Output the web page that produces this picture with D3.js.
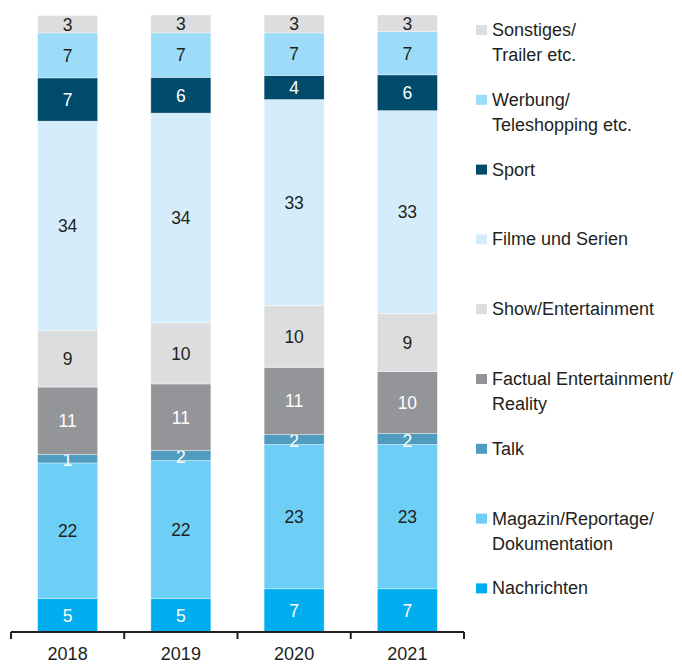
<!DOCTYPE html>
<html>
<head>
<meta charset="utf-8">
<script src="https://cdn.jsdelivr.net/npm/d3@7"></script>
<style>
	body { margin: 0; background: #fff; }
	svg { display: block; font-family: "Liberation Sans", Arial, sans-serif; }
</style>
</head>
<body>
<svg id="chart" width="682" height="666"></svg>
<script>
'use strict' ;

// years on the x axis
const years = [ "2018", "2019", "2020", "2021" ] ;

// categories, bottom of the stack first
const categories = [
	"Nachrichten", "Magazin", "Talk", "Factual", "Show",
	"Filme", "Sport", "Werbung", "Sonstiges"
] ;

// legend text, one entry per category (lines)
const legendLabels = {
	Nachrichten: [ "Nachrichten" ],
	Magazin: [ "Magazin/Reportage/", "Dokumentation" ],
	Talk: [ "Talk" ],
	Factual: [ "Factual Entertainment/", "Reality" ],
	Show: [ "Show/Entertainment" ],
	Filme: [ "Filme und Serien" ],
	Sport: [ "Sport" ],
	Werbung: [ "Werbung/", "Teleshopping etc." ],
	Sonstiges: [ "Sonstiges/", "Trailer etc." ]
} ;

// shares in percent (same order as categories)
const values2018 = [ 5.4, 22.0, 1.4, 10.9, 9.2, 33.9, 7.0, 7.3, 2.8 ] ;
const values2019 = [ 5.4, 22.4, 1.6, 10.8, 9.9, 34.0, 5.8, 7.2, 2.9 ] ;
const values2020 = [ 7.0, 23.4, 1.6, 10.9, 10.0, 33.4, 3.9, 6.9, 2.9 ] ;
const values2021 = [ 7.0, 23.4, 1.8, 10.0, 9.4, 32.9, 5.8, 7.0, 2.7 ] ;

// printed labels
const labels2018 = [ 5, 22, 1, 11, 9, 34, 7, 7, 3 ] ;
const labels2019 = [ 5, 22, 2, 11, 10, 34, 6, 7, 3 ] ;
const labels2020 = [ 7, 23, 2, 11, 10, 33, 4, 7, 3 ] ;
const labels2021 = [ 7, 23, 2, 10, 9, 33, 6, 7, 3 ] ;

const colours = {
	Nachrichten: '#00aeef',
	Magazin: '#6dcff6',
	Talk: '#4f9cc0',
	Factual: '#939598',
	Show: '#dcdddf',
	Filme: '#d5edfb',
	Sport: '#004b6b',
	Werbung: '#9ddcf9',
	Sonstiges: '#dcdddf'
} ;
const whiteText = { Nachrichten: true, Talk: true, Factual: true, Sport: true } ;

let valuesByYear = [ values2018, values2019, values2020, values2021 ] ;
let labelsByYear = [ labels2018, labels2019, labels2020, labels2021 ] ;

let rows = years.map( ( year, i ) => {
	let row = { year: year } ;
	categories.forEach( ( c, j ) => {
		row[c] = valuesByYear[i][j] ;
		row[c + '_label'] = labelsByYear[i][j] ;
	} ) ;
	return row ;
} ) ;

let geom = {
	axisY: 632,
	top: 15,
	left: 11,
	right: 464
} ;

let svg = d3.select( '#chart' ) ;

let x = d3.scaleBand()
	.domain( years )
	.range( [ geom.left, geom.right ] )
	.paddingInner( 0.47 )
	.paddingOuter( 0.235 ) ;

let y = d3.scaleLinear()
	.domain( [ 0, 100 ] )
	.range( [ geom.axisY, geom.top ] ) ;

let stack = d3.stack().keys( categories ) ;
let series = stack( rows ) ;

let layers = svg.append( 'g' ).attr( 'class', 'bars' )
	.selectAll( 'g.layer' )
	.data( series )
	.enter()
	.append( 'g' )
	.attr( 'class', 'layer' )
	.attr( 'fill', d => colours[d.key] ) ;

layers.selectAll( 'rect' )
	.data( d => d.map( p => ( { key: d.key, p: p } ) ) )
	.enter()
	.append( 'rect' )
	.attr( 'x', d => x( d.p.data.year ) )
	.attr( 'width', x.bandwidth() )
	.attr( 'y', d => y( d.p[1] ) )
	.attr( 'height', d => y( d.p[0] ) - y( d.p[1] ) )
	.attr( 'stroke', 'rgba(255,255,255,0.6)' )
	.attr( 'stroke-width', 0.6 ) ;

layers.selectAll( 'text' )
	.data( d => d.map( p => ( { key: d.key, p: p } ) ) )
	.enter()
	.append( 'text' )
	.attr( 'x', d => x( d.p.data.year ) + x.bandwidth() / 2 )
	.attr( 'y', d => ( y( d.p[0] ) + y( d.p[1] ) ) / 2 + ( d.key == 'Talk' ? 1.5 : 0 ) )
	.attr( 'dy', '0.36em' )
	.attr( 'text-anchor', 'middle' )
	.attr( 'font-size', '17.5px' )
	.attr( 'fill', d => whiteText[d.key] ? '#ffffff' : '#231f20' )
	.text( d => d.p.data[d.key + '_label'] ) ;

// axis: baseline with ticks between the years
{
	let axis = svg.append( 'g' ).attr( 'class', 'axis' ) ;
	axis.append( 'line' )
		.attr( 'x1', geom.left )
		.attr( 'x2', geom.right )
		.attr( 'y1', geom.axisY )
		.attr( 'y2', geom.axisY )
		.attr( 'stroke', '#231f20' )
		.attr( 'stroke-width', 2.2 ) ;
	let step = x.step() ;
	let tickXs = years.map( yr => x( yr ) - step * x.paddingInner() / 2 ).concat( [ geom.right ] ) ;
	axis.selectAll( 'line.tick' )
		.data( tickXs )
		.enter()
		.append( 'line' )
		.attr( 'class', 'tick' )
		.attr( 'x1', d => d )
		.attr( 'x2', d => d )
		.attr( 'y1', geom.axisY )
		.attr( 'y2', geom.axisY + 7 )
		.attr( 'stroke', '#231f20' )
		.attr( 'stroke-width', 2 ) ;
	axis.selectAll( 'text' )
		.data( years )
		.enter()
		.append( 'text' )
		.attr( 'x', d => x( d ) + x.bandwidth() / 2 )
		.attr( 'y', 660 )
		.attr( 'text-anchor', 'middle' )
		.attr( 'font-size', '18px' )
		.attr( 'fill', '#231f20' )
		.text( d => d ) ;
}

// legend, top entry first
{
	let order = categories.slice().reverse() ;
	let legend = svg.append( 'g' ).attr( 'class', 'legend' )
		.selectAll( 'g.item' )
		.data( order )
		.enter()
		.append( 'g' )
		.attr( 'class', 'item' )
		.attr( 'transform', ( d, i ) => 'translate(476,' + ( 36 + i * 69.8 ) + ')' ) ;
	legend.append( 'rect' )
		.attr( 'x', 0 )
		.attr( 'y', -11 )
		.attr( 'width', 11 )
		.attr( 'height', 10 )
		.attr( 'fill', d => colours[d] ) ;
	legend.append( 'text' )
		.attr( 'x', 16 )
		.attr( 'y', 0 )
		.attr( 'font-size', '18px' )
		.attr( 'fill', '#231f20' )
		.selectAll( 'tspan' )
		.data( d => legendLabels[d] )
		.enter()
		.append( 'tspan' )
		.attr( 'x', 16 )
		.attr( 'dy', ( d, i ) => i == 0 ? 0 : 25 )
		.text( d => d ) ;
}
</script>
</body>
</html>
